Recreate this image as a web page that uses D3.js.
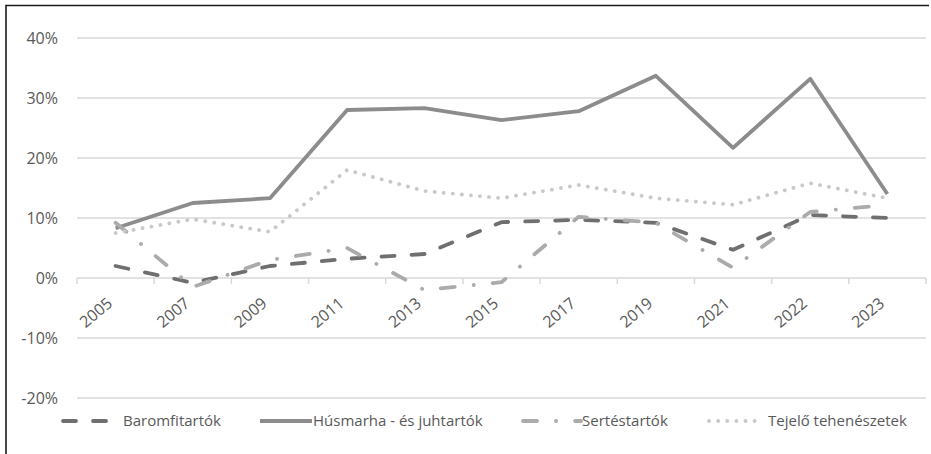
<!DOCTYPE html>
<html>
<head>
<meta charset="utf-8">
<script src="https://cdn.jsdelivr.net/npm/d3@7"></script>
<style>
  html, body { margin: 0; padding: 0; background: #fff; }
  svg { display: block; }
  text { font-family: "Open Sans", "Noto Sans", sans-serif; fill: #595959; }
</style>
</head>
<body>
<svg id="chart" width="931" height="454"></svg>
<script>
// Years on the category axis
const years = ["2005", "2007", "2009", "2011", "2013", "2015", "2017", "2019", "2021", "2022", "2023"];

// Series values, in percent
const baromfitartok = [2.0, -0.8, 2.0, 3.2, 4.0, 9.3, 9.7, 9.2, 4.7, 10.5, 10.0];
const husmarhaJuhtartok = [8.3, 12.5, 13.3, 28.0, 28.3, 26.3, 27.8, 33.7, 21.7, 33.2, 14.0];
const sertestartok = [9.2, -1.5, 3.0, 5.0, -2.0, -0.7, 10.2, 9.2, 1.7, 11.0, 12.2];
const tejeloTehenszetek = [7.5, 9.8, 7.7, 18.0, 14.5, 13.3, 15.5, 13.3, 12.2, 15.8, 13.3];

// Value axis ticks
const yTicks = [-20, -10, 0, 10, 20, 30, 40];

const series = [
  { name: "Baromfitartók", values: baromfitartok, color: "#6f6f6f", dash: "13,17" },
  { name: "Húsmarha - és juhtartók", values: husmarhaJuhtartok, color: "#8c8c8c", dash: null },
  { name: "Sertéstartók", values: sertestartok, color: "#ababab", dash: "14,19,0.1,19" },
  { name: "Tejelő tehenészetek", values: tejeloTehenszetek, color: "#c9c9c9", dash: "0.1,9" }
];

const svg = d3.select("#chart");

// Outer frame (top and left edges)
svg.append("path")
  .attr("d", "M6,454 L6,5.5 L929,5.5")
  .attr("fill", "none")
  .attr("stroke", "#1a1a1a")
  .attr("stroke-width", 1.6);

const x = d3.scaleBand().domain(years).range([77, 926]);
const y = d3.scaleLinear().domain([-20, 40]).range([398, 38]);

// Horizontal gridlines
svg.append("g")
  .selectAll("line")
  .data(yTicks)
  .join("line")
  .attr("x1", 77).attr("x2", 926)
  .attr("y1", d => y(d)).attr("y2", d => y(d))
  .attr("stroke", "#d9d9d9")
  .attr("stroke-width", 1.5);

// Value axis labels
svg.append("g")
  .selectAll("text")
  .data(yTicks)
  .join("text")
  .attr("x", 58)
  .attr("y", d => y(d))
  .attr("dy", "0.36em")
  .attr("text-anchor", "end")
  .style("font-size", "16px")
  .text(d => d + "%");

// Category axis on the zero line, ticks between categories
const xAxis = d3.axisBottom(x).tickSize(0).tickFormat("");
const gx = svg.append("g").attr("transform", `translate(0,${y(0)})`).call(xAxis);
gx.select(".domain").remove();
const boundaries = years.map(d => x(d)).concat([x.range()[1]]);
gx.selectAll("line.sep")
  .data(boundaries)
  .join("line")
  .attr("class", "sep")
  .attr("x1", d => d).attr("x2", d => d)
  .attr("y1", 0).attr("y2", 6)
  .attr("stroke", "#d9d9d9")
  .attr("stroke-width", 1.5);

// Rotated year labels
svg.append("g")
  .selectAll("text")
  .data(years)
  .join("text")
  .attr("transform", d => `translate(${x(d) + x.bandwidth() / 2 - 2},${y(0) + 27}) rotate(-40)`)
  .attr("text-anchor", "end")
  .style("font-size", "16px")
  .text(d => d);

// Series lines
const line = d3.line()
  .x((d, i) => x(years[i]) + x.bandwidth() / 2)
  .y(d => y(d));

svg.append("g")
  .selectAll("path")
  .data(series)
  .join("path")
  .attr("d", d => line(d.values))
  .attr("fill", "none")
  .attr("stroke", d => d.color)
  .attr("stroke-width", 3.8)
  .attr("stroke-linejoin", "round")
  .attr("stroke-linecap", d => d.dash ? "round" : "butt")
  .attr("stroke-dasharray", d => d.dash);

// Legend
const legendItems = [
  { s: series[0], x1: 63, x2: 114, tx: 123 },
  { s: series[1], x1: 260, x2: 312, tx: 313 },
  { s: series[2], x1: 523, x2: 581, tx: 582 },
  { s: series[3], x1: 709, x2: 763, tx: 768 }
];
const legendY = 421;
const lg = svg.append("g");
legendItems.forEach(it => {
  lg.append("line")
    .attr("x1", it.x1).attr("x2", it.x2)
    .attr("y1", legendY).attr("y2", legendY)
    .attr("stroke", it.s.color)
    .attr("stroke-width", 3.8)
    .attr("stroke-linecap", it.s.dash ? "round" : "butt")
    .attr("stroke-dasharray", it.s.dash);
  lg.append("text")
    .attr("x", it.tx)
    .attr("y", legendY)
    .attr("dy", "0.36em")
    .style("font-size", "15px")
    .text(it.s.name);
});
</script>
</body>
</html>
